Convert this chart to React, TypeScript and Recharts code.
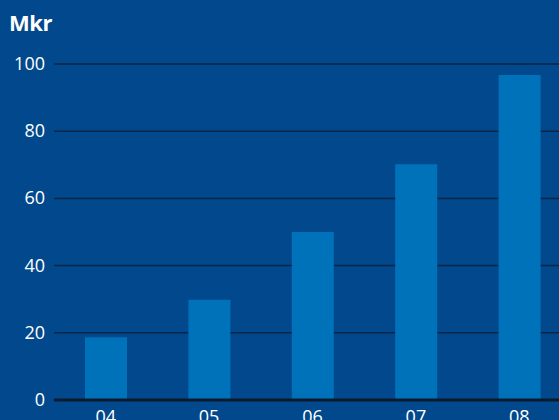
import React from "react";
import { BarChart, Bar, XAxis, YAxis, CartesianGrid } from "recharts";

const categories = ["04", "05", "06", "07", "08"];
const values = [18.7, 29.8, 50, 70.2, 96.7];
const yTicks = [0, 20, 40, 60, 80, 100];

const data = categories.map((c, i) => ({ year: c, value: values[i] }));

const FONT = "'Open Sans', 'Noto Sans', sans-serif";

const XTick = (props: any) => {
  const { x, y, payload } = props;
  return (
    <text x={x} y={y + 15} textAnchor="middle" fill="#ffffff" fontSize={18} fontFamily={FONT}>
      {payload.value}
    </text>
  );
};

const YTick = (props: any) => {
  const { y, payload } = props;
  return (
    <text x={45} y={y + 6} textAnchor="end" fill="#ffffff" fontSize={18} fontFamily={FONT}>
      {payload.value}
    </text>
  );
};

export default function App() {
  return (
    <div
      style={{
        position: "absolute",
        left: 0,
        top: 0,
        width: 559,
        height: 420,
        overflow: "hidden",
        background: "#01488C",
      }}
    >
      <div
        style={{
          position: "absolute",
          left: 9,
          top: 8,
          color: "#ffffff",
          fontFamily: FONT,
          fontWeight: 700,
          fontSize: 22,
          lineHeight: "28px",
          letterSpacing: "-0.5px",
        }}
      >
        Mkr
      </div>
      <div style={{ position: "absolute", left: 0, top: 0 }}>
        <BarChart
          width={580}
          height={440}
          data={data}
          margin={{ top: 64, right: 9, bottom: 10, left: 0 }}
          barSize={42}
        >
          <CartesianGrid vertical={false} stroke="#0b2547" strokeWidth={1.5} />
          <XAxis
            dataKey="year"
            height={30}
            tickLine={false}
            axisLine={{ stroke: "#0a1a2e", strokeWidth: 3 }}
            tick={<XTick />}
            interval={0}
          />
          <YAxis
            width={54}
            domain={[0, 100]}
            ticks={yTicks}
            tickLine={false}
            axisLine={false}
            tick={<YTick />}
          />
          <Bar dataKey="value" fill="#0072B9" isAnimationActive={false} />
        </BarChart>
      </div>
    </div>
  );
}
